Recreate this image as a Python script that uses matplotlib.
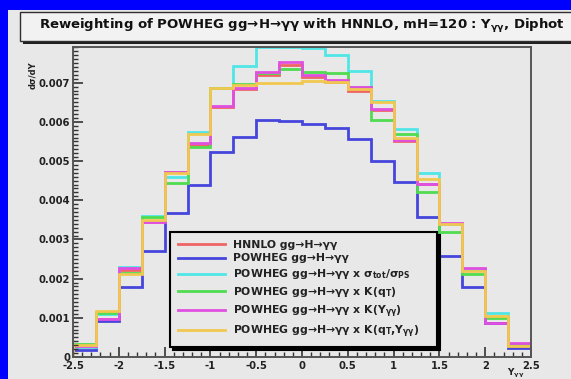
import numpy as np
import matplotlib
matplotlib.use("Agg")
import matplotlib.pyplot as plt
from matplotlib.patches import Rectangle
from matplotlib.ticker import MultipleLocator, FixedLocator

# ---- data ----
bin_edges = np.linspace(-2.5, 2.5, 21)
hnnlo = [0.00025, 0.00097, 0.00222, 0.00345, 0.00472, 0.00540, 0.00638, 0.00684, 0.00720, 0.00745,
         0.00715, 0.00702, 0.00679, 0.00630, 0.00552, 0.00441, 0.00340, 0.00224, 0.00087, 0.00033]
powheg = [0.00018, 0.00093, 0.00179, 0.00271, 0.00367, 0.00439, 0.00523, 0.00562, 0.00605, 0.00603,
          0.00594, 0.00584, 0.00557, 0.00501, 0.00446, 0.00358, 0.00258, 0.00178, 0.00088, 0.00022]
pw_sigma = [0.00025, 0.00110, 0.00230, 0.00360, 0.00460, 0.00575, 0.00687, 0.00742, 0.00790, 0.00790,
            0.00788, 0.00770, 0.00730, 0.00654, 0.00582, 0.00469, 0.00340, 0.00222, 0.00111, 0.00030]
pw_kqt = [0.00033, 0.00112, 0.00215, 0.00357, 0.00445, 0.00536, 0.00687, 0.00696, 0.00725, 0.00734,
          0.00728, 0.00724, 0.00690, 0.00605, 0.00570, 0.00420, 0.00318, 0.00211, 0.00100, 0.00030]
pw_ky = [0.00028, 0.00096, 0.00226, 0.00345, 0.00472, 0.00545, 0.00640, 0.00686, 0.00728, 0.00752,
         0.00720, 0.00708, 0.00688, 0.00634, 0.00553, 0.00442, 0.00342, 0.00226, 0.00086, 0.00035]
pw_kqty = [0.00030, 0.00118, 0.00212, 0.00350, 0.00470, 0.00570, 0.00687, 0.00695, 0.00698, 0.00700,
           0.00705, 0.00702, 0.00685, 0.00650, 0.00560, 0.00455, 0.00340, 0.00220, 0.00105, 0.00028]

labels = ["HNNLO gg→H→γγ",
          "POWHEG gg→H→γγ",
          r"POWHEG gg→H→γγ x σ$_{tot}$/σ$_{PS}$",
          r"POWHEG gg→H→γγ x K(q$_{T}$)",
          r"POWHEG gg→H→γγ x K(Y$_{γγ}$)",
          r"POWHEG gg→H→γγ x K(q$_{T}$,Y$_{γγ}$)"]
series = [hnnlo, powheg, pw_sigma, pw_kqt, pw_ky, pw_kqty]
colors = ["#f06464", "#4646dc", "#50e6e6", "#50dc50", "#e050e0", "#f0c850"]

xticks = [-2.5, -2, -1.5, -1, -0.5, 0, 0.5, 1, 1.5, 2, 2.5]
xticklabels = ["-2.5", "-2", "-1.5", "-1", "-0.5", "0", "0.5", "1", "1.5", "2", "2.5"]
yticks = [0, 0.001, 0.002, 0.003, 0.004, 0.005, 0.006, 0.007]
yticklabels = ["0", "0.001", "0.002", "0.003", "0.004", "0.005", "0.006", "0.007"]

plt.rcParams['font.family'] = ['DejaVu Sans']
plt.rcParams['font.weight'] = 'bold'
plt.rcParams['mathtext.fontset'] = 'dejavusans'
plt.rcParams['mathtext.default'] = 'bf'

W, H = 571, 379
fig = plt.figure(figsize=(W / 100, H / 100), dpi=100, facecolor="#0000ff")

def fx(px):
    return px / W

def fy(py):
    return 1 - py / H

panel = "#e8e8e8"
fig.patches.append(Rectangle((fx(8), 0), 1 - fx(8), fy(10), transform=fig.transFigure,
                             facecolor=panel, edgecolor="none", zorder=-10))

# title box with shadow
fig.patches.append(Rectangle((fx(23), fy(44)), 1, fy(15) - fy(44), transform=fig.transFigure,
                             facecolor="#202020", edgecolor="none", zorder=-9))
fig.patches.append(Rectangle((fx(20), fy(41)), 1, fy(12) - fy(41), transform=fig.transFigure,
                             facecolor="#f2f2f2", edgecolor="#303030", linewidth=1.0, zorder=-8))
fig.text(fx(39), fy(26), r"Reweighting of POWHEG gg→H→γγ with HNNLO, mH=120 : Y$_{γγ}$, Diphot",
         fontsize=9.5, fontweight="bold", va="center", ha="left", color="#111111", zorder=3)

ax = fig.add_axes([fx(73), fy(357), fx(531) - fx(73), fy(47) - fy(357)], zorder=5)
ax.set_facecolor(panel)
for vals, c, lab in zip(series, colors, labels):
    ax.stairs(vals, bin_edges, color=c, linewidth=2.0, label=lab)

ax.set_xlim(-2.5, 2.5)
ax.set_ylim(0, 0.00791)
ax.xaxis.set_major_locator(FixedLocator(xticks))
ax.set_xticklabels(xticklabels)
ax.yaxis.set_major_locator(FixedLocator(yticks))
ax.set_yticklabels(yticklabels)
ax.xaxis.set_minor_locator(MultipleLocator(0.1))
ax.yaxis.set_minor_locator(MultipleLocator(0.0001))
ax.tick_params(which="both", direction="in", colors="#333333", labelcolor="#222222",
               top=False, right=False)
ax.tick_params(which="major", length=7, width=1.2, labelsize=7.2)
ax.tick_params(which="minor", length=3.5, width=1.0)
for lab in ax.get_xticklabels() + ax.get_yticklabels():
    lab.set_fontweight("bold")
ax.tick_params(axis="x", pad=3)
ax.tick_params(axis="y", pad=2)
for s in ax.spines.values():
    s.set_color("#555555")
    s.set_linewidth(1.4)

leg = ax.legend(loc="upper left",
                bbox_to_anchor=(fx(170), fy(348), fx(437) - fx(170), fy(232) - fy(348)),
                bbox_transform=fig.transFigure, mode="expand",
                fontsize=7.8, handlelength=4.4, handletextpad=0.7, borderpad=0.7,
                labelspacing=0.36, borderaxespad=0,
                frameon=True, fancybox=False, facecolor=panel, edgecolor="black",
                framealpha=1, shadow={'color': 'black', 'alpha': 1})
leg.get_frame().set_linewidth(1.5)
for t in leg.get_texts():
    t.set_fontweight("bold")
    t.set_color("#222222")

fig.text(fx(33), fy(75), "dσ/dY", rotation=90, fontsize=6, fontweight="bold",
         ha="center", va="center", color="#222222")
fig.text(fx(516), fy(373), r"Y$_{γγ}$", fontsize=6.5, fontweight="bold",
         ha="center", va="center", color="#222222")

fig.savefig("out.png", dpi=100, facecolor=fig.get_facecolor())
